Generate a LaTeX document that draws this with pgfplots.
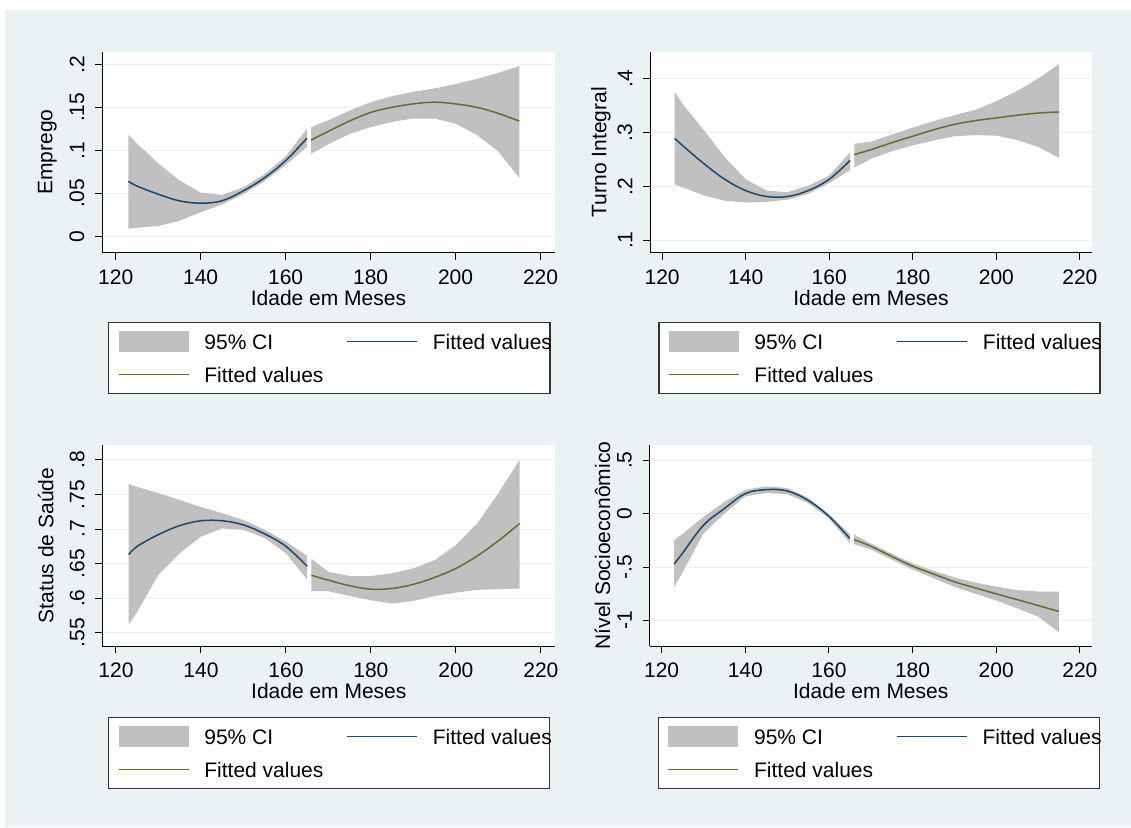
\documentclass[border=0pt]{standalone}
\usepackage{pgfplots}
\pgfplotsset{compat=1.18}
\usepackage{fontspec}
\setmainfont{Liberation Sans}
\definecolor{bgc}{HTML}{EAF2F3}
\definecolor{gridc}{HTML}{EAF2F3}
\definecolor{cigray}{HTML}{C0C0C0}
\definecolor{navy}{HTML}{1A476F}
\definecolor{fgreen}{HTML}{55752F}
\definecolor{legc}{HTML}{333333}
\pgfplotsset{
  stata/.style={
    scale only axis,
    axis lines*=left,
    axis line style={black, line width=1pt},
    axis background/.style={fill=white},
    xmin=116.78, xmax=223.4,
    xtick={120,140,160,180,200,220},
    xticklabels={120,140,160,180,200,220},
    tick align=outside,
    major tick length=7pt,
    tick style={black, line width=1pt},
    minor tick num=0,
    ymajorgrids,
    grid style={color=gridc, line width=1pt},
    xticklabel style={anchor=north, inner sep=0pt},
    xticklabel shift=10pt,
    yticklabel style={rotate=90, anchor=south, inner sep=0pt},
    yticklabel shift=10.5pt,
    xlabel={Idade em Meses},
    xlabel style={at={(axis description cs:0.5,0)}, anchor=north, yshift=-37.5pt, inner sep=0pt},
    ylabel style={anchor=south, inner sep=0pt},
    legend columns=2,
    legend cell align=left,
    legend style={draw=legc, line width=1.2pt, fill=white, inner xsep=9pt, inner ysep=8pt,
      anchor=north west, column sep=15pt, row sep=11pt,
      nodes={inner sep=0pt, text height=19pt, text depth=3pt, draw=none}},
  },
  band/.style={fill=cigray, draw=none, forget plot},
  fitblue/.style={navy, line width=1.5pt, smooth, tension=0.6, forget plot},
  fitgreen/.style={fgreen, line width=1.5pt, smooth, tension=0.6, forget plot},
}
\newcommand{\stataLegend}{%
  \addlegendimage{legend image code/.code={\path[draw=none,fill=none] (0pt,-11pt) rectangle (70pt,11pt); \path[draw=none,fill=cigray] (0pt,-10.5pt) rectangle (70pt,10.5pt);}}
  \addlegendentry{\makebox[127pt][l]{95\% CI}}
  \addlegendimage{legend image code/.code={\path[draw=none,fill=none] (0pt,-11pt) rectangle (70pt,11pt); \path[draw=navy,fill=none,line width=1.5pt] (0pt,0pt) -- (70pt,0pt);}}
  \addlegendentry{\makebox[108pt][l]{Fitted values}}
  \addlegendimage{legend image code/.code={\path[draw=none,fill=none] (0pt,-11pt) rectangle (70pt,11pt); \path[draw=fgreen,fill=none,line width=1.5pt] (0pt,0pt) -- (70pt,0pt);}}
  \addlegendentry{\makebox[127pt][l]{Fitted values}}
}
\begin{document}
\fontsize{21pt}{25pt}\selectfont
\begin{tikzpicture}
\fill[white] (0pt,0pt) rectangle (1131pt,827pt);
\fill[bgc] (5pt,0pt) rectangle (1131pt,817pt);

% Panel 1: Emprego
\begin{axis}[stata, at={(102pt,574.3pt)}, anchor=south west, width=453pt, height=201pt,
  ymin=-0.019, ymax=0.2147,
  ytick={0,0.05,0.1,0.15,0.2}, yticklabels={0,.05,.1,.15,.2},
  ylabel={Emprego}, ylabel style={at={(axis description cs:-0.0995,0.5)}},
  legend style={at={(axis description cs:0.0139,-0.3433)}}]
\addplot[band] coordinates {(123,0.118) (125,0.108) (130,0.085) (135,0.065) (140,0.051) (145,0.048) (150,0.057) (155,0.072) (160,0.093) (165,0.125)
  (165,0.104) (160,0.083) (155,0.064) (150,0.049) (145,0.037) (140,0.028) (135,0.018) (130,0.012) (125,0.010) (123,0.009)};
\addplot[band] coordinates {(166,0.127) (170,0.135) (175,0.146) (180,0.156) (185,0.163) (190,0.168) (195,0.172) (200,0.177) (205,0.183) (210,0.190) (215,0.198)
  (215,0.068) (210,0.099) (205,0.118) (200,0.131) (195,0.137) (190,0.137) (185,0.133) (180,0.127) (175,0.119) (170,0.107) (166,0.096)};
\addplot[fitblue] coordinates {(123,0.064) (125,0.0585) (130,0.049) (135,0.0413) (140,0.0386) (145,0.0413) (150,0.0528) (155,0.068) (160,0.088) (165,0.114)};
\addplot[fitgreen] coordinates {(166,0.112) (170,0.122) (175,0.134) (180,0.144) (185,0.150) (190,0.154) (195,0.156) (200,0.154) (205,0.150) (210,0.143) (215,0.134)};
\stataLegend
\end{axis}

% Panel 2: Turno Integral
\begin{axis}[stata, at={(650pt,574.3pt)}, anchor=south west, width=442pt, height=201pt,
  xmin=117.1, xmax=222.9,
  ymin=0.0766, ymax=0.45,
  ytick={0.1,0.2,0.3,0.4}, yticklabels={.1,.2,.3,.4},
  ylabel={Turno Integral}, ylabel style={at={(axis description cs:-0.0882,0.5)}},
  legend style={at={(axis description cs:0.0188,-0.3433)}}]
\addplot[band] coordinates {(123,0.375) (125,0.352) (130,0.304) (135,0.254) (140,0.213) (145,0.192) (150,0.189) (155,0.201) (160,0.220) (165,0.263)
  (165,0.230) (160,0.206) (155,0.186) (150,0.175) (145,0.171) (140,0.170) (135,0.173) (130,0.183) (125,0.198) (123,0.203)};
\addplot[band] coordinates {(166,0.279) (170,0.283) (175,0.296) (180,0.309) (185,0.321) (190,0.332) (195,0.342) (200,0.358) (205,0.377) (210,0.400) (215,0.427)
  (215,0.253) (210,0.273) (205,0.286) (200,0.294) (195,0.295) (190,0.293) (185,0.285) (180,0.276) (175,0.265) (170,0.251) (166,0.235)};
\addplot[fitblue] coordinates {(123,0.289) (125,0.275) (130,0.242) (135,0.213) (140,0.192) (145,0.181) (150,0.181) (155,0.192) (160,0.213) (165,0.248)};
\addplot[fitgreen] coordinates {(166,0.259) (170,0.268) (175,0.281) (180,0.293) (185,0.305) (190,0.315) (195,0.322) (200,0.327) (205,0.332) (210,0.336) (215,0.338)};
\stataLegend
\end{axis}

% Panel 3: Status de Saude
\begin{axis}[stata, at={(102.3pt,181pt)}, anchor=south west, width=453pt, height=201pt,
  ymin=0.5307, ymax=0.8217,
  ytick={0.55,0.6,0.65,0.7,0.75,0.8}, yticklabels={.55,.6,.65,.7,.75,.8},
  ylabel={Status de Saúde}, ylabel style={at={(axis description cs:-0.1073,0.5)}},
  legend style={at={(axis description cs:0.0132,-0.3517)}}]
\addplot[band] coordinates {(123,0.765) (125,0.761) (130,0.752) (135,0.742) (140,0.732) (145,0.723) (150,0.713) (155,0.699) (160,0.682) (165,0.661)
  (165,0.627) (160,0.665) (155,0.687) (150,0.699) (145,0.701) (140,0.689) (135,0.665) (130,0.634) (125,0.580) (123,0.562)};
\addplot[band] coordinates {(166,0.657) (170,0.638) (175,0.632) (180,0.632) (185,0.636) (190,0.643) (195,0.655) (200,0.677) (205,0.708) (210,0.752) (215,0.800)
  (215,0.614) (210,0.613) (205,0.612) (200,0.608) (195,0.603) (190,0.596) (185,0.592) (180,0.597) (175,0.603) (170,0.610) (166,0.610)};
\addplot[fitblue] coordinates {(123,0.663) (125,0.675) (130,0.692) (135,0.705) (140,0.712) (145,0.712) (150,0.706) (155,0.693) (160,0.675) (165,0.646)};
\addplot[fitgreen] coordinates {(166,0.633) (170,0.626) (175,0.618) (180,0.613) (185,0.614) (190,0.620) (195,0.630) (200,0.643) (205,0.661) (210,0.683) (215,0.708)};
\stataLegend
\end{axis}

% Panel 4: Nivel Socioeconomico
\begin{axis}[stata, at={(649.5pt,181pt)}, anchor=south west, width=442.5pt, height=201pt,
  xmin=117.1, xmax=222.9,
  ymin=-1.239, ymax=0.642,
  ytick={-1,-0.5,0,0.5}, yticklabels={-1,-.5,0,.5},
  ylabel={Nível Socioeconômico}, ylabel style={at={(axis description cs:-0.0879,0.5)}},
  legend style={at={(axis description cs:0.0192,-0.3517)}}]
\addplot[band] coordinates {(123,-0.249) (125,-0.19) (130,-0.031) (135,0.109) (140,0.224) (145,0.255) (150,0.240) (155,0.149) (160,-0.006) (165,-0.193)
  (165,-0.274) (160,-0.044) (155,0.100) (150,0.181) (145,0.193) (140,0.162) (135,0.0) (130,-0.187) (125,-0.55) (123,-0.685)};
\addplot[band] coordinates {(166,-0.196) (170,-0.28) (175,-0.375) (180,-0.467) (185,-0.535) (190,-0.598) (195,-0.645) (200,-0.683) (205,-0.716) (210,-0.729) (215,-0.729)
  (215,-1.112) (210,-0.963) (205,-0.887) (200,-0.813) (195,-0.75) (190,-0.685) (185,-0.605) (180,-0.523) (175,-0.43) (170,-0.335) (166,-0.286)};
\addplot[fitblue] coordinates {(123,-0.471) (125,-0.37) (130,-0.109) (135,0.047) (140,0.187) (145,0.224) (150,0.212) (155,0.124) (160,-0.025) (165,-0.233)};
\addplot[fitgreen] coordinates {(166,-0.243) (170,-0.305) (175,-0.40) (180,-0.492) (185,-0.565) (190,-0.638) (195,-0.695) (200,-0.751) (205,-0.805) (210,-0.86) (215,-0.916)};
\stataLegend
\end{axis}
\end{tikzpicture}
\end{document}
